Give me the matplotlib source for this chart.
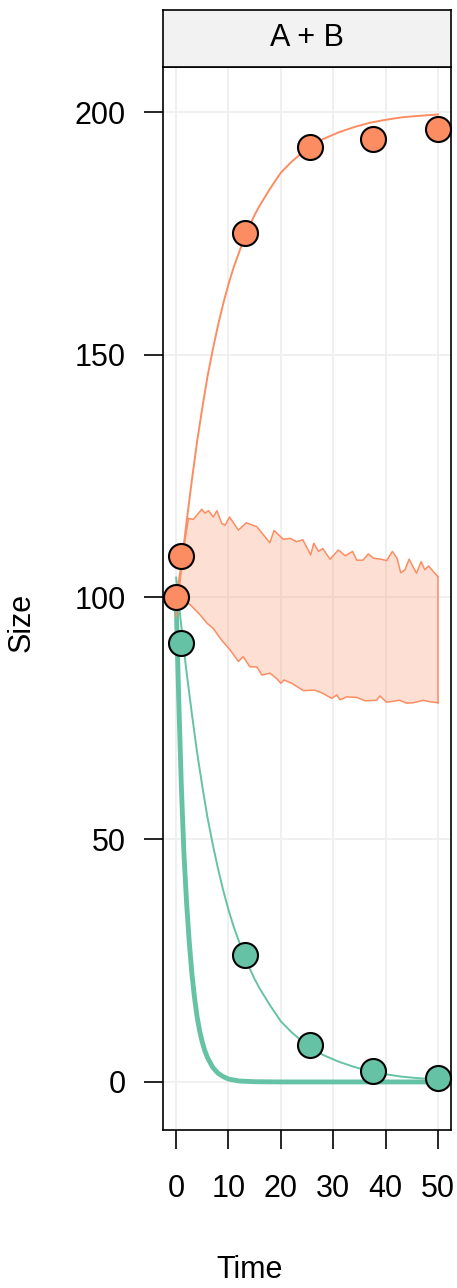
import numpy as np
import matplotlib
matplotlib.use('Agg')
from matplotlib import pyplot as plt

plt.rcParams['font.family'] = ['Liberation Sans', 'DejaVu Sans']

orange = '#FC8D62'
green = '#66C2A5'

# observed points
obs_t = [0, 1, 13.2, 25.6, 37.6, 50]
obs_b = [100, 108.5, 175, 192.8, 194.4, 196.5]
obs_a_t = [1, 13.2, 25.6, 37.6, 50]
obs_a = [90.5, 26.2, 7.6, 2.3, 0.8]

# fitted curves
fit_t = [0, 0.5, 1, 1.5, 2, 3, 4, 5, 6, 7, 8, 9, 10, 11, 12, 13, 14, 15, 16,
         18, 20, 22, 25, 28, 31, 34, 37, 40, 43, 46, 50]
fit_b = [96, 101.3, 106, 111, 115.5, 124, 132, 139, 145.5, 151, 156, 160.5,
         164.5, 168, 171, 174, 176.5, 178.8, 180.8, 184.3, 187.5, 189.7, 192.5,
         194.4, 195.8, 196.9, 197.8, 198.4, 198.9, 199.2, 199.5]
fit_a = [104, 98.7, 94, 89, 84.5, 76, 68, 61, 54.5, 49, 44, 39.5, 35.5, 32,
         29, 26, 23.5, 21.2, 19.2, 15.7, 12.5, 10.3, 7.5, 5.6, 4.2, 3.1, 2.2,
         1.6, 1.1, 0.8, 0.5]

# fast decaying band
fast_t = [0, 0.25, 0.5, 0.75, 1, 1.25, 1.5, 2, 2.5, 3, 3.5, 4, 4.5, 5, 5.5, 6,
          7, 8, 9, 10, 12, 15, 20, 30, 40, 50]
fast_a = [100, 89, 79, 70, 61, 54, 47, 37, 29, 22.5, 17.5, 13.5, 10.5, 8.2,
          6.4, 5, 3, 1.8, 1.1, 0.6, 0.2, 0.05, 0, 0, 0, 0]

# simulated envelope for B
upper_t = [0, 2.35, 3.3, 4.9, 5.5, 6.2, 7.1, 7.8, 8.7, 9.35, 10.2, 11.9, 13.4,
           15.4, 17.9, 18.7, 20.5, 21.8, 23.0, 24.2, 25.7, 26.3, 27.2, 28.0,
           29.4, 31.0, 32.3, 33.7, 34.5, 35.7, 36.7, 37.7, 39.2, 40.2, 41.3,
           42.2, 42.9, 43.7, 44.5, 45.9, 46.8, 47.5, 48.2, 50]
upper_v = [100, 116.2, 116.0, 118.1, 117.3, 117.8, 116.5, 117.8, 115.2, 114.8,
           116.5, 113.8, 115.3, 114.5, 111.2, 113.7, 111.9, 112.1, 111.4,
           111.8, 108.7, 111.1, 109.4, 110.0, 107.8, 109.7, 108.5, 109.4,
           107.6, 107.6, 108.9, 108.0, 107.8, 107.5, 109.4, 108.0, 105.0,
           105.6, 107.8, 104.9, 107.3, 105.6, 106.4, 104.2]
lower_t = [0, 2.7, 4.6, 5.9, 7.1, 8.7, 10.3, 11.9, 12.8, 14.1, 15.4, 16.4,
           17.9, 19.2, 20.0, 20.6, 22.1, 24.3, 26.5, 28.1, 29.7, 30.7, 31.3,
           32.6, 34.5, 36.1, 38.3, 38.9, 40.2, 42.7, 44.0, 45.3, 47.2, 48.5, 50]
lower_v = [100, 98.4, 96.3, 94.6, 93.5, 91.1, 89.1, 86.7, 87.7, 85.6, 85.6,
           83.9, 84.3, 83.2, 82.2, 82.9, 82.2, 80.7, 80.8, 80.1, 79.1, 79.8,
           78.8, 79.4, 79.3, 78.6, 78.7, 79.6, 78.3, 78.7, 78.1, 78.2, 78.7,
           78.4, 78.2]

fig = plt.figure(figsize=(4.57, 12.88), dpi=100)
ax = fig.add_axes([0.3567, 0.1227, 0.6302, 0.8253])
strip = fig.add_axes([0.3567, 0.948, 0.6302, 0.0443])

# strip
strip.set_facecolor('#f2f2f2')
strip.set_xticks([])
strip.set_yticks([])
strip.text(0.5, 0.5, 'A + B', ha='center', va='center', fontsize=22,
           transform=strip.transAxes)
for s in strip.spines.values():
    s.set_linewidth(1.2)

# grid
for gx in [0, 10, 20, 30, 40, 50]:
    ax.axvline(gx, color='#efefef', lw=1.3, zorder=0)
for gy in [0, 50, 100, 150, 200]:
    ax.axhline(gy, color='#efefef', lw=1.3, zorder=0)

# envelope
env_t = np.concatenate([upper_t, lower_t[::-1]])
env_v = np.concatenate([upper_v, lower_v[::-1]])
ax.fill(env_t, env_v, facecolor=orange, alpha=0.28, edgecolor='none', zorder=1)
ax.plot(upper_t, upper_v, color=orange, lw=1.1, zorder=2)
ax.plot(lower_t, lower_v, color=orange, lw=1.1, zorder=2)
ax.plot([50, 50], [upper_v[-1], lower_v[-1]], color=orange, lw=1.1, zorder=2)

ax.plot(fast_t, fast_a, color=green, lw=3.5, zorder=3, solid_capstyle='butt')
ax.plot(fit_t, fit_a, color=green, lw=1.4, zorder=3)
ax.plot(fit_t, fit_b, color=orange, lw=1.4, zorder=3)

ax.plot(obs_a_t, obs_a, 'o', ms=18, mfc=green, mec='black', mew=1.5, zorder=4)
ax.plot(obs_t, obs_b, 'o', ms=18, mfc=orange, mec='black', mew=1.5, zorder=4)

ax.set_xlim(-2.5, 52.5)
ax.set_ylim(-9.9, 209.3)
ax.set_xticks([0, 10, 20, 30, 40, 50])
ax.set_yticks([0, 50, 100, 150, 200])
ax.tick_params(axis='x', length=14, width=1.2, pad=18, labelsize=22)
ax.tick_params(axis='y', length=14, width=1.2, pad=13, labelsize=22)
for s in ax.spines.values():
    s.set_linewidth(1.2)

fig.text(250 / 457, 1 - 1270 / 1288, 'Time', ha='center', va='center', fontsize=22)
fig.text(22 / 457, 1 - 622 / 1288, 'Size', ha='center', va='center',
         fontsize=22, rotation=90)

fig.savefig('out.png', dpi=100)
